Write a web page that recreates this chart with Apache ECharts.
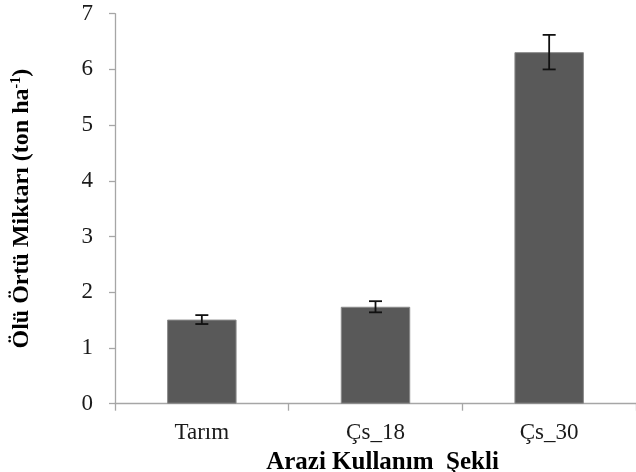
<!DOCTYPE html>
<html>
<head>
<meta charset="utf-8">
<style>html,body{margin:0;padding:0;background:#fff;}#chart{width:636px;height:472px;}</style>
<script src="https://cdn.jsdelivr.net/npm/echarts@6/dist/echarts.min.js"></script>
</head>
<body>
<div id="chart"></div>
<script>
const categories = ['Tarım', 'Çs_18', 'Çs_30'];
const means = [1.51, 1.74, 6.31];
const errors = [0.08, 0.10, 0.31];
const yTicks = [0, 1, 2, 3, 4, 5, 6, 7];

const serif = '"Liberation Serif", "DejaVu Serif", serif';
const chart = echarts.init(document.getElementById('chart'));
const errData = categories.map((c, i) => [i, means[i] - errors[i], means[i] + errors[i]]);

chart.setOption({
  animation: false,
  backgroundColor: '#fff',
  grid: { left: 115, right: 0, top: 13.7, bottom: 68.3, containLabel: false, outerBoundsMode: 'none' },
  xAxis: {
    type: 'category',
    data: categories,
    name: 'Arazi Kullanım  Şekli',
    nameLocation: 'middle',
    nameGap: 41,
    nameTextStyle: { fontFamily: serif, fontWeight: 'bold', fontSize: 25, color: '#000', padding: [0, 0, 0, 14] },
    axisLine: { lineStyle: { color: '#a6a6a6', width: 1.3 } },
    axisTick: { show: true, length: 7, lineStyle: { color: '#a6a6a6', width: 1.3 } },
    axisLabel: { fontFamily: serif, fontSize: 23, color: '#1a1a1a', margin: 18 },
    splitLine: { show: false }
  },
  yAxis: {
    type: 'value',
    min: yTicks[0],
    max: yTicks[yTicks.length - 1],
    interval: 1,
    name: 'Ölü Örtü Miktarı (ton ha{sup|-1})',
    nameLocation: 'middle',
    nameGap: 80,
    nameRotate: 90,
    nameTextStyle: {
      fontFamily: serif, fontWeight: 'bold', fontSize: 24, color: '#000', lineHeight: 26,
      rich: { sup: { fontFamily: serif, fontWeight: 'bold', fontSize: 14, verticalAlign: 'top', lineHeight: 26, color: '#000' } }
    },
    axisLine: { show: true, lineStyle: { color: '#a6a6a6', width: 1.3 } },
    axisTick: { show: true, length: 6, lineStyle: { color: '#a6a6a6', width: 1.3 } },
    axisLabel: { fontFamily: serif, fontSize: 23, color: '#1a1a1a', margin: 22 },
    splitLine: { show: false }
  },
  series: [
    {
      type: 'bar',
      data: means,
      barWidth: '40%',
      itemStyle: { color: '#595959', borderColor: '#8a8a8a', borderWidth: 1 }
    },
    {
      type: 'custom',
      data: errData,
      z: 10,
      renderItem: function (params, api) {
        const x = api.value(0);
        const lo = api.coord([x, api.value(1)]);
        const hi = api.coord([x, api.value(2)]);
        const hw = 6.5;
        const style = { stroke: '#111', lineWidth: 1.8 };
        return {
          type: 'group',
          children: [
            { type: 'line', shape: { x1: hi[0], y1: hi[1], x2: lo[0], y2: lo[1] }, style: style },
            { type: 'line', shape: { x1: hi[0] - hw, y1: hi[1], x2: hi[0] + hw, y2: hi[1] }, style: style },
            { type: 'line', shape: { x1: lo[0] - hw, y1: lo[1], x2: lo[0] + hw, y2: lo[1] }, style: style }
          ]
        };
      }
    }
  ]
});
</script>
</body>
</html>
